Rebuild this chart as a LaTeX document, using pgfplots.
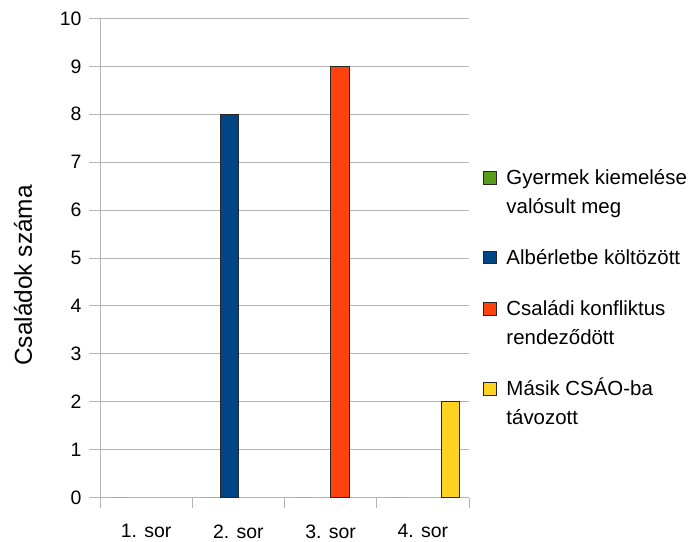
\documentclass[border=0pt]{standalone}
\usepackage{pgfplots}
\pgfplotsset{compat=1.18}
\usepackage{pgfplotstable}
\usepackage{fontspec}
\setmainfont{Liberation Sans}

\definecolor{zold}{HTML}{579D1C}
\definecolor{kek}{HTML}{004586}
\definecolor{narancs}{HTML}{FF420E}
\definecolor{sarga}{HTML}{FFD320}
\definecolor{racs}{HTML}{B3B3B3}

\pgfplotstableread{
x  gyermek alberlet konfliktus csao
0  0 0 0 0
1  0 8 0 0
2  0 0 9 0
3  0 0 0 2
}\adatok

% strut: same height/depth for every legend row (20bp up, 5bp down)
\newcommand{\ls}{\rule[-5bp]{0pt}{25bp}}

% legend cells sit on the baseline of their last line
\pgfplotsset{
    ketsoros/.style={legend image code/.code={\draw[##1, draw=black!85, line width=0.8bp] (0bp,29.2bp) rectangle (12.5bp,41.7bp);}},
    egysoros/.style={legend image code/.code={\draw[##1, draw=black!85, line width=0.8bp] (0bp,0.5bp) rectangle (12.5bp,13bp);}},
}

\begin{document}
\begin{tikzpicture}
\useasboundingbox (-100bp,-44.5bp) rectangle (590bp,497.5bp);
\begin{axis}[
    scale only axis,
    width=369bp, height=479bp,
    xmin=-0.5, xmax=3.5,
    ymin=0, ymax=10,
    ytick={0,1,...,10},
    xtick={-0.5,0.5,1.5,2.5,3.5},
    xticklabels={},
    extra x ticks={0,1,2,3},
    extra x tick labels={1. sor,2. sor,3. sor,4. sor},
    extra x tick style={tick style={draw=none}},
    axis x line*=bottom, axis y line*=left,
    axis line style={racs, line width=0.9bp},
    tick style={racs, line width=0.9bp},
    tick align=outside,
    major tick length=11bp,
    ymajorgrids,
    grid style={racs, line width=0.9bp},
    /pgf/number format/assume math mode=true,
    tick label style={font=\fontsize{19.5}{22}\selectfont},
    yticklabel style={xshift=-4bp},
    xticklabel style={yshift=-12.5bp},
    ylabel={Családok száma},
    ylabel style={font=\fontsize{24.5}{28}\selectfont, at={(axis description cs:-0.2087,0.4635)}, anchor=center},
    ybar=0pt, bar width=0.2,
    legend style={at={(axis description cs:1,0.6962)}, anchor=north west, xshift=14bp,
        draw=none, fill=none, inner sep=0pt, row sep=29.5bp,
        font=\fontsize{20.5}{29.2}\selectfont,
        nodes={align=left, inner sep=0pt},
        cells={anchor=base west},
        /tikz/every odd column/.style={column sep=10bp}},
    ketsoros,
]
\addplot[fill=zold, draw=none] table[x=x, y=gyermek] {\adatok};
\addlegendentry{\ls Gyermek kiemelése\\valósult meg\ls}
\addplot[fill=kek, draw=black!85, line width=0.8bp, y filter/.expression={y==0 ? nan : y}, egysoros]
    table[x=x, y=alberlet] {\adatok};
\addlegendentry{\ls Albérletbe költözött\ls}
\addplot[fill=narancs, draw=black!85, line width=0.8bp, y filter/.expression={y==0 ? nan : y}] table[x=x, y=konfliktus] {\adatok};
\addlegendentry{\ls Családi konfliktus\\rendeződött\ls}
\addplot[fill=sarga, draw=black!85, line width=0.8bp, y filter/.expression={y==0 ? nan : y}] table[x=x, y=csao] {\adatok};
\addlegendentry{\ls Másik CSÁO-ba\\távozott\ls}
\draw[color=racs!55, line width=0.9bp] (rel axis cs:1,0) -- (rel axis cs:1,1);
\end{axis}
\end{tikzpicture}
\end{document}
